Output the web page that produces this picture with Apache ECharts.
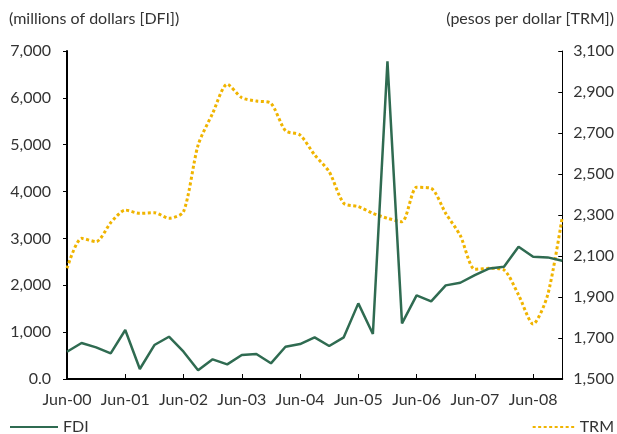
<!doctype html>
<html lang="en">
<head>
<meta charset="utf-8"/>
<title>FDI and TRM</title>
<style>
  html, body { margin: 0; padding: 0; background: #fff; }
  #chart { width: 617px; height: 434px; }
</style>
</head>
<body>
<div id="chart"></div>
<script src="https://cdn.jsdelivr.net/npm/echarts@6/dist/echarts.min.js"></script>
<script>
// quarterly, Jun-00 .. Dec-08
const quarters = [
  "Jun-00", "Sep-00", "Dec-00", "Mar-01",
  "Jun-01", "Sep-01", "Dec-01", "Mar-02",
  "Jun-02", "Sep-02", "Dec-02", "Mar-03",
  "Jun-03", "Sep-03", "Dec-03", "Mar-04",
  "Jun-04", "Sep-04", "Dec-04", "Mar-05",
  "Jun-05", "Sep-05", "Dec-05", "Mar-06",
  "Jun-06", "Sep-06", "Dec-06", "Mar-07",
  "Jun-07", "Sep-07", "Dec-07", "Mar-08",
  "Jun-08", "Sep-08", "Dec-08",
];

// millions of dollars
const fdi = [
  582, 768, 676, 548,
  1045, 213, 725, 902,
  582, 185, 420, 313,
  512, 533, 335, 689,
  746, 889, 704, 889,
  1614, 960, 6780, 1187,
  1785, 1657, 1998, 2054,
  2217, 2360, 2395, 2821,
  2608, 2595, 2522,
];

// pesos per dollar
const trm = [
  2040, 2186, 2170, 2262,
  2324, 2308, 2311, 2284,
  2316, 2641, 2796, 2938,
  2872, 2856, 2845, 2711,
  2690, 2593, 2511, 2357,
  2341, 2308, 2284, 2267,
  2435, 2430, 2308, 2200,
  2035, 2040, 2032, 1910,
  1768, 1910, 2290,
];

const TEXT = "#333333";
const FONT = "Lato";
const FS = 16;
const GREEN = "#2f6b51";
const GOLD = "#f0b400";

const fmt = (v) => (v === 0 ? "0.0" : v.toLocaleString("en-US"));

const chart = echarts.init(document.getElementById("chart"), null, { renderer: "canvas" });
chart.setOption({
  animation: false,
  textStyle: { fontFamily: FONT, color: TEXT },
  grid: { left: 67, right: 54, top: 51, bottom: 55, containLabel: false },
  graphic: [
    { type: "text", left: 9, top: 11,
      style: { text: "(millions of dollars [DFI])", fill: TEXT, font: `${FS}px ${FONT}` } },
    { type: "text", right: 3, top: 11,
      style: { text: "(pesos per dollar [TRM])", fill: TEXT, font: `${FS}px ${FONT}` } },
  ],
  legend: [
    { data: ["FDI"], left: 9, top: 419, padding: 0, itemWidth: 48, itemHeight: 16, itemGap: 6,
      itemStyle: { opacity: 0 },
      textStyle: { fontFamily: FONT, fontSize: FS, color: TEXT } },
    { data: ["TRM"], right: 3, top: 419, padding: 0, itemWidth: 42, itemHeight: 16, itemGap: 6,
      itemStyle: { opacity: 0 },
      textStyle: { fontFamily: FONT, fontSize: FS, color: TEXT } },
  ],
  xAxis: {
    type: "category",
    data: quarters,
    boundaryGap: false,
    axisLine: { lineStyle: { color: "#000", width: 2 } },
    axisTick: { inside: true, length: 5, interval: 3, lineStyle: { color: "#000" } },
    axisLabel: { interval: 3, margin: 13, fontSize: FS, color: TEXT, fontFamily: FONT },
    splitLine: { show: false },
  },
  yAxis: [
    {
      type: "value", position: "left", min: 0, max: 7000, interval: 1000,
      axisLine: { show: true, lineStyle: { color: "#000", width: 2 } },
      axisTick: { show: true, length: 4, lineStyle: { color: "#000" } },
      axisLabel: { formatter: fmt, margin: 16, fontSize: FS, color: TEXT, fontFamily: FONT },
      splitLine: { show: false },
    },
    {
      type: "value", position: "right", min: 1500, max: 3100, interval: 200,
      axisLine: { show: true, lineStyle: { color: "#000", width: 1 } },
      axisTick: { show: true, inside: true, length: 4, lineStyle: { color: "#000" } },
      axisLabel: { formatter: fmt, margin: 11, fontSize: FS, color: TEXT, fontFamily: FONT },
      splitLine: { show: false },
    },
  ],
  series: [
    {
      name: "FDI", type: "line", yAxisIndex: 0, data: fdi,
      symbol: "none", color: GREEN,
      lineStyle: { color: GREEN, width: 2.5 },
      z: 3,
    },
    {
      name: "TRM", type: "line", yAxisIndex: 1, data: trm,
      symbol: "none", smooth: 0.25, color: GOLD,
      lineStyle: { color: GOLD, width: 3, type: [3, 2.5] },
      z: 2,
    },
  ],
});
</script>
</body>
</html>
